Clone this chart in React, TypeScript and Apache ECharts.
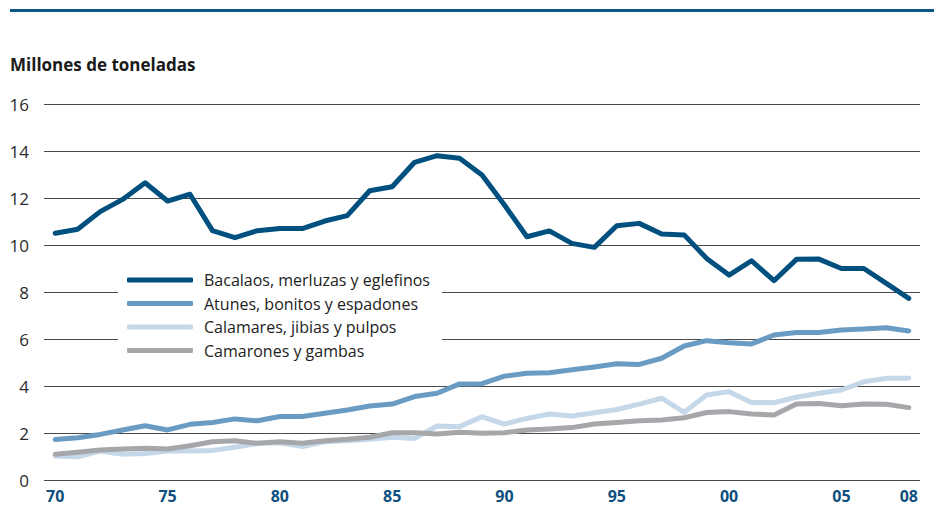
import React, { useEffect, useRef } from "react";
import * as echarts from "echarts";

const years = [
  "70", "71", "72", "73", "74", "75", "76", "77", "78", "79",
  "80", "81", "82", "83", "84", "85", "86", "87", "88", "89",
  "90", "91", "92", "93", "94", "95", "96", "97", "98", "99",
  "00", "01", "02", "03", "04", "05", "06", "07", "08",
];

const bacalaos = [
  10.5, 10.67, 11.42, 11.94, 12.65, 11.87, 12.16, 10.61, 10.31, 10.61,
  10.7, 10.7, 11.02, 11.25, 12.31, 12.48, 13.52, 13.8, 13.69, 12.98,
  11.7, 10.35, 10.6, 10.07, 9.9, 10.82, 10.92, 10.47, 10.43, 9.43,
  8.72, 9.33, 8.48, 9.39, 9.4, 9.0, 9.0, 8.37, 7.73,
];

const atunes = [
  1.72, 1.8, 1.94, 2.13, 2.31, 2.13, 2.37, 2.45, 2.6, 2.52,
  2.7, 2.7, 2.84, 2.98, 3.15, 3.23, 3.55, 3.69, 4.09, 4.1,
  4.42, 4.54, 4.56, 4.69, 4.81, 4.95, 4.92, 5.18, 5.7, 5.93,
  5.84, 5.79, 6.17, 6.28, 6.28, 6.38, 6.43, 6.48, 6.34,
];

const calamares = [
  1.02, 0.99, 1.23, 1.1, 1.13, 1.23, 1.23, 1.26, 1.39, 1.56,
  1.58, 1.42, 1.63, 1.67, 1.73, 1.82, 1.77, 2.3, 2.27, 2.69,
  2.38, 2.62, 2.81, 2.72, 2.86, 3.0, 3.23, 3.48, 2.88, 3.62,
  3.76, 3.3, 3.29, 3.52, 3.69, 3.83, 4.18, 4.33, 4.33,
];

const camarones = [
  1.1, 1.18, 1.28, 1.32, 1.35, 1.32, 1.46, 1.63, 1.67, 1.56,
  1.63, 1.56, 1.67, 1.73, 1.82, 2.01, 2.01, 1.96, 2.03, 1.99,
  2.01, 2.13, 2.17, 2.23, 2.38, 2.45, 2.52, 2.55, 2.65, 2.87,
  2.91, 2.81, 2.77, 3.23, 3.26, 3.16, 3.23, 3.22, 3.08,
];

const seriesNames = [
  "Bacalaos, merluzas y eglefinos",
  "Atunes, bonitos y espadones",
  "Calamares, jibias y pulpos",
  "Camarones y gambas",
];

const colors = ["#00507f", "#6a9cc3", "#c5d8ea", "#a6a7ab"];
const zOrder = [5, 4, 2, 3];
const seriesData = [bacalaos, atunes, calamares, camarones];

const FONT = "'Open Sans', 'Noto Sans', sans-serif";

export default function App() {
  const ref = useRef<HTMLDivElement>(null);

  useEffect(() => {
    document.body.style.margin = "0";
    if (!ref.current) return;
    const chart = echarts.init(ref.current, null, { renderer: "svg" });
    chart.setOption({
      animation: false,
      backgroundColor: "#ffffff",
      textStyle: { fontFamily: FONT },
      grid: { left: 44, right: 14, top: 104, bottom: 28, containLabel: false },
      graphic: [
        {
          type: "rect",
          left: 10,
          top: 9,
          shape: { width: 924, height: 3 },
          style: { fill: "#0b5886" },
        },
        {
          type: "text",
          left: 10,
          top: 56,
          style: {
            text: "Millones de toneladas",
            font: `bold 17px ${FONT}`,
            fill: "#1a1a1a",
          },
        },
      ],
      legend: {
        orient: "vertical",
        left: 118,
        top: 262,
        padding: [8, 12, 8, 9],
        backgroundColor: "#ffffff",
        itemWidth: 66,
        itemHeight: 5,
        itemGap: 3.5,
        icon: "roundRect",
        data: seriesNames,
        textStyle: {
          fontFamily: FONT,
          fontSize: 16,
          color: "#222222",
          lineHeight: 20,
          padding: [0, 0, 0, 6],
        },
        z: 10,
      },
      xAxis: {
        type: "category",
        data: years,
        boundaryGap: true,
        axisLine: { show: false },
        axisTick: { show: false },
        axisLabel: {
          interval: (i: number) => i % 5 === 0 || i === years.length - 1,
          margin: 8,
          fontFamily: FONT,
          fontSize: 16,
          lineHeight: 16,
          fontWeight: "bold",
          color: "#0d4f7e",
        },
      },
      yAxis: {
        type: "value",
        min: 0,
        max: 16,
        interval: 2,
        axisLine: { show: false },
        axisTick: { show: false },
        axisLabel: {
          margin: 15,
          fontFamily: FONT,
          fontSize: 17,
          color: "#2a2a2a",
        },
        splitLine: { lineStyle: { color: "#4a4a4a", width: 1 } },
      },
      series: seriesNames.map((name, i) => ({
        name,
        type: "line",
        data: seriesData[i],
        symbol: "none",
        z: zOrder[i],
        itemStyle: { color: colors[i] },
        lineStyle: { color: colors[i], width: 5, cap: "round", join: "round" },
      })),
    });
    return () => chart.dispose();
  }, []);

  return <div ref={ref} style={{ width: 934, height: 508 }} />;
}
